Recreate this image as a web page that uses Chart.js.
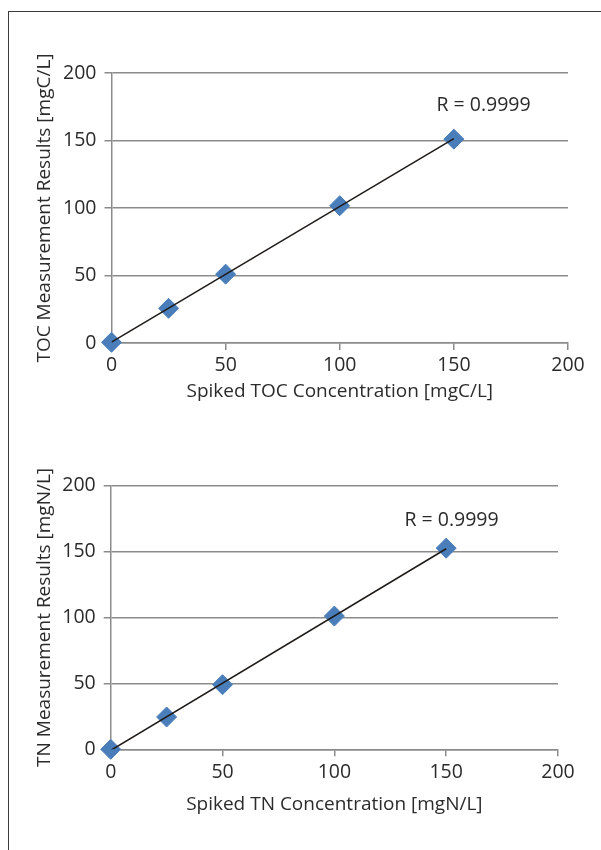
<!DOCTYPE html>
<html>
<head>
<meta charset="utf-8">
<script src="https://cdn.jsdelivr.net/npm/chart.js@4.4.1/dist/chart.umd.min.js"></script>
<style>
  html, body { margin: 0; padding: 0; background: #fff; overflow: hidden; }
  body { width: 601px; height: 850px; position: relative; }
  #frame { position: absolute; left: 8px; top: 11px; width: 700px; height: 900px; border: 1.5px solid #3c3c3c; }
  .box { position: absolute; left: 0; width: 601px; height: 425px; }
</style>
</head>
<body>
<div id="frame"></div>
<div class="box" style="top:0"><canvas id="tocChart"></canvas></div>
<div class="box" style="top:425px"><canvas id="tnChart"></canvas></div>
<script>
// spiked concentrations (same for both)
const spiked = [0, 25, 50, 100, 150];
const tocMeasured = [0.5, 25.7, 51, 101.7, 151];
const tnMeasured = [0, 24.5, 49, 101, 152.5];
const axisTicks = [0, 50, 100, 150, 200];
const rText = 'R = 0.9999';

const textColor = '#2b2b2b';
const gridColor = '#8b8b8b';
const markerColor = '#4a7ebb';
const fontFamily = '"Open Sans", "Noto Sans", sans-serif';

// least squares line over the data range
function fitLine(xs, ys) {
    const n = xs.length;
    let sx = 0, sy = 0, sxx = 0, sxy = 0;
    for (let i = 0; i < n; i++) {
        sx += xs[i]; sy += ys[i]; sxx += xs[i] * xs[i]; sxy += xs[i] * ys[i];
    }
    const slope = (n * sxy - sx * sy) / (n * sxx - sx * sx);
    const icpt = (sy - slope * sx) / n;
    const x0 = Math.min(...xs), x1 = Math.max(...xs);
    return [{x: x0, y: icpt + slope * x0}, {x: x1, y: icpt + slope * x1}];
}

const rLabelPlugin = {
    id: 'rLabel',
    afterDatasetsDraw(chart, args, opts) {
        const ctx = chart.ctx;
        const px = chart.scales.x.getPixelForValue(opts.x);
        const py = chart.scales.y.getPixelForValue(opts.y);
        ctx.save();
        ctx.font = '19.5px ' + fontFamily;
        ctx.fillStyle = textColor;
        ctx.textAlign = 'center';
        ctx.textBaseline = 'middle';
        ctx.fillText(rText, px, py);
        ctx.restore();
    }
};

function makeChart(id, measured, xTitle, yTitle, lay) {
    const ctx = document.getElementById(id).getContext('2d');
    return new Chart(ctx, {
        type: 'scatter',
        data: {
            datasets: [{
                type: 'line',
                data: fitLine(spiked, measured),
                borderColor: '#1e1a18',
                borderWidth: 1.5,
                pointRadius: 0,
                fill: false,
                order: 0
            }, {
                data: spiked.map((x, i) => ({x: x, y: measured[i]})),
                pointStyle: 'rectRot',
                pointRadius: 10,
                pointBackgroundColor: markerColor,
                pointBorderColor: markerColor,
                pointBorderWidth: 1,
                clip: false,
                order: 1
            }]
        },
        options: {
            responsive: true,
            maintainAspectRatio: false,
            animation: false,
            layout: { padding: { left: 0, top: lay.top, right: lay.right, bottom: lay.bottom } },
            plugins: {
                legend: { display: false },
                tooltip: { enabled: false },
                rLabel: lay.r
            },
            scales: {
                x: {
                    type: 'linear',
                    min: 0, max: 200,
                    afterBuildTicks: s => { s.ticks = axisTicks.map(v => ({value: v})); },
                    afterFit: s => { s.height = 70; },
                    grid: { drawOnChartArea: false, drawTicks: true, tickLength: 7, color: gridColor, lineWidth: 1.5 },
                    border: { color: gridColor, width: 1.5 },
                    ticks: { color: textColor, padding: 4, font: { family: fontFamily, size: 19.5 } },
                    title: {
                        display: true, text: xTitle, color: textColor,
                        font: { family: fontFamily, size: 19 },
                        padding: { top: 0, bottom: lay.xTitlePad }
                    }
                },
                y: {
                    type: 'linear',
                    min: 0, max: 200,
                    afterBuildTicks: s => { s.ticks = axisTicks.map(v => ({value: v})); },
                    afterFit: s => { s.width = lay.left; },
                    grid: { drawTicks: true, tickLength: 7, color: gridColor, lineWidth: 1.5 },
                    border: { color: gridColor, width: 1.5 },
                    ticks: { color: textColor, padding: 8, font: { family: fontFamily, size: 19.5 } },
                    title: {
                        display: true, text: yTitle, color: textColor,
                        font: { family: fontFamily, size: 19 },
                        padding: { top: 33.6, bottom: 0 }
                    }
                }
            }
        },
        plugins: [rLabelPlugin]
    });
}

makeChart('tocChart', tocMeasured,
    'Spiked TOC Concentration [mgC/L]', 'TOC Measurement Results [mgC/L]',
    { left: 111.5, top: 73, right: 33, bottom: 12, xTitlePad: 9.9, r: { x: 163, y: 176 } });

makeChart('tnChart', tnMeasured,
    'Spiked TN Concentration [mgN/L]', 'TN Measurement Results [mgN/L]',
    { left: 110.7, top: 60.5, right: 43, bottom: 30.7, xTitlePad: 2.9, r: { x: 152.4, y: 173.7 } });
</script>
</body>
</html>
